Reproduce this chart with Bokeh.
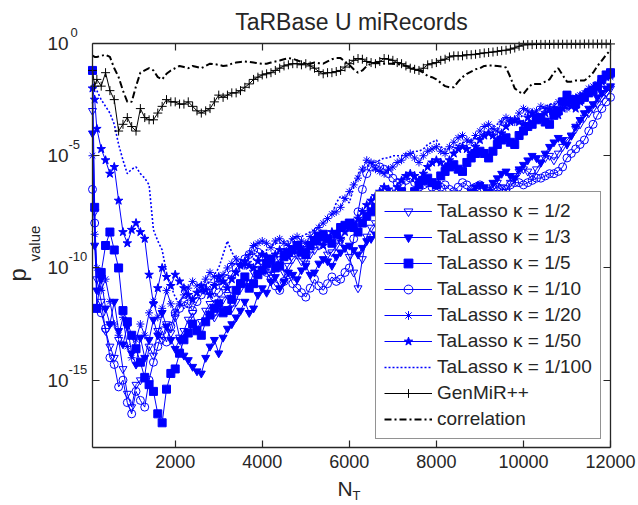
import math
from bokeh.plotting import figure
from bokeh.models import Range1d, FixedTicker, LinearAxis, LogAxis, Label, Legend, LegendItem
from bokeh.embed import file_html
from bokeh.resources import INLINE

FONT = "Liberation Sans"
BLUE = "#0000FF"
INK = "#262626"

# ---------------- data (log10 of p-value) ----------------
NT = [100, 150] + list(range(200, 12001, 100))   # 121 values of N_T

talasso_k2 = [
    -3.0, -7.5, -10.5, -11.5, -12.8, -13.5, -14.0, -13.2, -14.5, -15.6,
    -16.2, -15.2, -15.0, -14.8, -13.5, -13.9, -12.8, -13.2, -12.5, -12.9, -12.2,
    -13.1, -12.8, -12.3, -12.0, -12.7, -12.4, -11.9, -11.6, -12.2, -11.9,
    -11.4, -11.2, -11.8, -11.5, -10.9, -10.6, -10.8, -10.2, -10.1, -9.8,
    -10.0, -10.3, -9.9, -9.6, -10.2, -9.9, -9.6, -9.4, -9.7, -9.8,
    -9.4, -9.2, -9.0, -8.9, -9.4, -9.3, -9.0, -8.8, -9.1, -9.5,
    -10.2, -10.9, -9.6, -8.6, -8.2, -8.0, -8.5, -8.3, -7.9, -7.8,
    -8.1, -8.3, -7.9, -7.7, -8.0, -7.9, -7.6, -7.4, -7.7, -7.6,
    -7.4, -7.2, -7.3, -7.5, -7.1, -6.9, -6.8, -6.7, -7.0, -6.9,
    -6.7, -6.5, -6.4, -6.2, -6.4, -6.6, -6.2, -5.9, -5.7, -5.6,
    -5.7, -5.9, -5.6, -5.3, -5.1, -5.0, -5.2, -4.9, -4.6, -4.3,
    -4.1, -3.8, -3.6, -3.3, -3.1, -2.9, -2.7, -2.4, -2.2, -2.0]

talasso_k3 = [
    -4.0, -9.0, -11.0, -10.5, -11.8, -12.5, -11.5, -12.8, -13.4, -12.6,
    -13.8, -14.3, -13.1, -14.0, -13.2, -12.3, -13.0, -12.0, -12.6, -13.2, -13.6,
    -13.2, -13.9, -14.1, -14.4, -14.6, -14.7, -14.0, -13.5, -13.2, -13.8,
    -13.1, -12.7, -12.5, -12.2, -11.9, -11.5, -12.0, -11.8, -11.2, -10.9,
    -11.1, -10.6, -10.4, -10.9, -10.6, -10.2, -10.3, -10.5, -10.1, -9.9,
    -10.3, -10.2, -9.8, -9.6, -9.7, -9.9, -9.5, -9.3, -9.1, -9.0,
    -9.2, -9.4, -9.1, -8.8, -8.7, -8.5, -8.6, -8.8, -8.4, -8.2,
    -8.3, -8.1, -8.4, -8.3, -8.0, -7.8, -7.6, -7.5, -7.7, -7.8,
    -7.4, -7.2, -7.0, -6.9, -7.0, -7.2, -6.8, -6.6, -6.4, -6.3,
    -6.4, -6.6, -6.2, -6.0, -5.8, -5.7, -5.9, -6.0, -5.6, -5.4,
    -5.2, -5.0, -5.1, -5.3, -4.9, -4.6, -4.4, -4.2, -4.3, -4.5,
    -4.1, -3.7, -3.4, -3.1, -2.9, -2.7, -2.4, -2.2, -2.0, -1.9]

talasso_k5 = [
    -1.2, -7.3, -11.8, -10.2, -9.0, -8.4, -9.2, -10.0, -11.9, -12.4,
    -13.0, -13.6, -14.2, -14.9, -15.2, -15.5, -16.5, -16.9, -15.4, -14.7, -14.5,
    -13.8, -13.2, -12.9, -12.5, -12.8, -13.0, -12.4, -12.1, -11.8, -11.6,
    -12.0, -11.9, -11.4, -11.0, -10.7, -10.4, -10.9, -10.7, -10.3, -10.1,
    -9.8, -9.6, -10.0, -9.9, -9.5, -9.3, -9.2, -9.0, -9.3, -9.4,
    -9.0, -8.8, -8.6, -8.5, -8.7, -8.9, -8.5, -8.2, -8.1, -8.0,
    -8.2, -8.4, -8.0, -7.7, -7.5, -7.3, -7.4, -7.6, -7.2, -7.0,
    -6.8, -6.6, -6.8, -6.9, -6.6, -6.3, -6.1, -6.0, -6.2, -6.3,
    -5.9, -5.7, -5.5, -5.4, -5.6, -5.7, -5.3, -5.1, -4.9, -4.8,
    -4.9, -5.1, -4.8, -4.5, -4.3, -4.2, -4.4, -4.5, -4.1, -3.9,
    -3.7, -3.6, -3.4, -3.3, -3.5, -3.6, -3.2, -3.0, -2.6, -2.3,
    -2.5, -2.7, -2.5, -2.4, -2.2, -2.1, -1.9, -1.6, -1.4, -1.3]

talasso_k10 = [
    -6.5, -8.0, -11.8, -12.0, -12.7, -14.0, -14.3, -15.3, -15.0, -16.0,
    -16.5, -15.5, -15.9, -16.2, -15.0, -14.2, -13.5, -12.8, -13.3, -12.6, -12.0,
    -11.8, -11.5, -11.6, -11.9, -11.5, -11.2, -11.0, -10.8, -11.3, -11.1,
    -10.8, -10.5, -10.3, -10.0, -9.8, -9.6, -9.4, -9.2, -9.3, -9.5,
    -10.2, -10.5, -10.8, -11.0, -10.6, -10.3, -10.7, -10.9, -11.1, -11.3,
    -10.9, -10.5, -10.8, -11.0, -10.7, -10.4, -10.6, -10.5, -10.2, -10.0,
    -8.7, -7.5, -6.5, -5.8, -5.5, -5.4, -5.5, -5.6, -5.8, -6.0,
    -6.2, -6.3, -6.1, -6.0, -6.2, -6.4, -6.3, -6.2, -6.4, -6.5,
    -6.4, -6.3, -6.5, -6.6, -6.4, -6.2, -6.3, -6.5, -6.4, -6.3,
    -6.5, -6.6, -6.5, -6.4, -6.5, -6.5, -6.3, -6.2, -6.2, -6.3,
    -6.2, -6.1, -6.0, -6.0, -5.9, -5.8, -5.8, -5.7, -5.5, -5.1,
    -4.9, -4.7, -4.5, -4.3, -3.9, -3.6, -3.2, -2.9, -2.6, -2.4]

talasso_k20 = [
    -5.0, -8.5, -10.0, -11.0, -10.5, -11.5, -12.5, -13.0, -12.2, -13.5,
    -14.0, -13.2, -12.5, -13.0, -12.0, -11.5, -12.2, -11.8, -11.0, -11.6, -12.0,
    -11.6, -11.2, -10.9, -10.6, -10.8, -11.0, -10.5, -10.2, -10.4, -10.6,
    -10.3, -10.0, -9.8, -9.6, -9.8, -9.9, -9.4, -9.0, -8.9, -8.8,
    -8.9, -9.1, -8.8, -8.7, -8.9, -9.0, -8.7, -8.6, -8.8, -8.9,
    -8.6, -8.4, -8.2, -8.0, -7.8, -7.6, -7.5, -7.3, -6.9, -6.6,
    -6.3, -6.0, -5.6, -5.2, -5.3, -5.6, -5.7, -5.8, -5.6, -5.5,
    -5.3, -5.2, -5.0, -4.9, -5.1, -5.3, -5.0, -4.8, -4.7, -4.6,
    -4.8, -4.9, -4.6, -4.4, -4.2, -4.1, -4.3, -4.4, -4.1, -3.9,
    -3.7, -3.6, -3.8, -3.9, -3.5, -3.3, -3.4, -3.5, -3.1, -2.9,
    -3.0, -3.2, -3.0, -2.8, -2.9, -3.0, -2.8, -2.6, -2.7, -2.9,
    -2.6, -2.4, -2.3, -2.2, -2.0, -1.9, -1.8, -1.6, -1.5, -1.5]

talasso_k50 = [
    -2.0, -2.5, -3.8, -4.7, -5.2, -5.8, -5.5, -7.0, -8.4, -8.9,
    -8.3, -8.0, -8.4, -8.7, -10.3, -11.6, -10.9, -10.0, -10.4, -10.8, -10.3,
    -10.6, -10.9, -11.2, -11.4, -11.1, -10.8, -11.0, -11.2, -10.8, -10.4,
    -10.6, -10.9, -10.5, -10.2, -9.9, -9.7, -9.9, -10.0, -9.7, -9.4,
    -9.5, -9.7, -9.4, -9.2, -9.3, -9.5, -9.2, -9.0, -9.1, -9.3,
    -9.0, -8.7, -8.8, -9.0, -8.7, -8.4, -8.5, -8.7, -8.4, -8.2,
    -8.0, -7.8, -7.5, -7.2, -7.0, -6.8, -6.6, -6.4, -6.5, -6.7,
    -6.4, -6.1, -5.9, -5.8, -5.9, -6.1, -5.8, -5.5, -5.3, -5.2,
    -5.3, -5.5, -5.2, -4.9, -4.7, -4.6, -4.7, -4.9, -4.6, -4.3,
    -4.1, -4.0, -4.1, -4.3, -4.0, -3.7, -3.5, -3.4, -3.5, -3.6,
    -3.3, -3.1, -3.2, -3.4, -3.1, -2.9, -3.0, -3.2, -2.9, -2.7,
    -2.8, -2.9, -2.6, -2.4, -2.2, -2.1, -1.9, -1.7, -1.5, -1.4]

talasso_k100 = [
    -1.8, -1.9, -2.1, -2.5, -2.8, -3.1, -3.6, -4.5, -5.2, -5.8,
    -5.6, -5.5, -5.8, -6.0, -6.3, -8.3, -8.8, -9.2, -10.2, -10.8, -11.3,
    -11.6, -11.8, -11.7, -11.5, -11.3, -11.0, -10.8, -10.6, -10.3, -10.0,
    -9.4, -8.8, -9.3, -9.6, -9.9, -10.0, -9.8, -9.6, -9.4, -9.3,
    -9.2, -9.0, -8.9, -8.9, -8.8, -8.8, -8.7, -8.6, -8.6, -8.5,
    -8.4, -8.3, -8.1, -8.0, -7.8, -7.6, -7.1, -6.8, -6.9, -7.1,
    -6.4, -5.8, -5.6, -5.5, -5.4, -5.3, -5.2, -5.1, -5.1, -5.0,
    -5.0, -5.0, -4.9, -4.9, -4.8, -4.8, -4.7, -4.5, -4.4, -4.3,
    -4.6, -4.7, -4.7, -4.6, -4.5, -4.4, -4.4, -4.3, -4.2, -4.2,
    -4.0, -3.9, -3.7, -3.6, -3.4, -3.3, -3.3, -3.4, -3.3, -3.2,
    -3.1, -3.0, -3.0, -2.9, -2.8, -2.7, -2.7, -2.6, -2.5, -2.4,
    -2.4, -2.3, -2.2, -2.1, -2.0, -1.9, -1.8, -1.7, -1.6, -1.5]

genmir = [
    -1.2, -1.9, -1.6, -1.9, -1.3, -2.1, -2.5, -3.9, -3.6, -3.3,
    -3.7, -3.9, -2.9, -3.3, -3.4, -3.4, -3.1, -2.8, -2.5, -2.6, -2.6,
    -2.7, -2.7, -2.6, -2.8, -3.0, -3.1, -3.0, -2.9, -2.6, -2.3,
    -2.4, -2.3, -2.2, -2.2, -2.1, -1.95, -1.8, -1.6, -1.5, -1.4,
    -1.35, -1.3, -1.2, -1.1, -1.0, -0.95, -0.9, -0.9, -0.95, -0.9,
    -1.0, -1.1, -1.25, -1.35, -1.3, -1.3, -1.25, -1.2, -1.05, -0.9,
    -0.75, -0.67, -0.7, -0.8, -0.85, -0.9, -0.8, -0.67, -0.7, -0.75,
    -0.85, -0.9, -1.0, -1.1, -1.15, -1.2, -1.1, -0.95, -0.9, -0.85,
    -0.75, -0.7, -0.6, -0.55, -0.55, -0.55, -0.5, -0.5, -0.48, -0.45,
    -0.42, -0.4, -0.38, -0.35, -0.32, -0.3, -0.25, -0.2, -0.12, -0.06,
    -0.05, -0.05, -0.04, -0.04, -0.04, -0.04, -0.03, -0.03, -0.03, -0.03,
    -0.03, -0.03, -0.03, -0.02, -0.02, -0.02, -0.02, -0.02, -0.02, -0.02]

correlation = [
    -0.54, -0.6, -0.6, -0.55, -0.5, -0.6, -1.1, -1.5, -2.1, -2.6,
    -2.6, -1.9, -1.3, -1.2, -1.1, -1.2, -1.5, -1.6, -1.35, -1.2, -1.1,
    -1.0, -1.05, -1.1, -1.0, -1.05, -1.1, -1.0, -0.9, -0.92, -0.95,
    -1.0, -0.98, -0.9, -0.85, -0.82, -0.8, -0.82, -0.85, -0.88, -0.9,
    -0.9, -0.85, -0.8, -0.76, -0.7, -0.65, -0.68, -0.75, -0.82, -0.9,
    -0.9, -0.85, -0.88, -0.9, -0.8, -0.7, -0.65, -0.65, -0.8, -0.95,
    -1.15, -1.3, -1.2, -1.0, -0.9, -0.85, -0.88, -0.9, -0.9, -0.9,
    -0.92, -0.95, -1.0, -1.05, -1.1, -1.2, -1.3, -1.45, -1.5, -1.6,
    -1.75, -1.9, -1.95, -1.95, -1.7, -1.5, -1.35, -1.25, -1.15, -1.1,
    -1.0, -0.98, -0.98, -1.0, -1.02, -1.07, -1.5, -2.0, -2.15, -2.25,
    -2.0, -1.8, -1.8, -1.8, -1.7, -1.6, -1.3, -1.1, -1.4, -1.7,
    -1.7, -1.65, -1.65, -1.65, -1.5, -1.3, -1.0, -0.76, -0.5, -0.3]

x_ticks = [2000, 4000, 6000, 8000, 10000, 12000]
y_tick_exponents = [0, -5, -10, -15]
title_text = "TaRBase U miRecords"


def to_p(logs):
    return [10.0 ** v for v in logs]


# ---------------- geometry of the plot box inside the canvas ----------------
W, H = 638, 505
BOX_L, BOX_R, BOX_T, BOX_B = 92, 610, 43, 447          # pixels
X_LO, X_HI = 100, 12000                                 # data limits of the box
E_LO, E_HI = -18, 0                                     # log10 limits of the box
kx = (BOX_R - BOX_L) / (X_HI - X_LO)
ky = (E_HI - E_LO) / (BOX_B - BOX_T)
x_range = Range1d(X_LO - BOX_L / kx, X_HI + (W - BOX_R) / kx)
y_range = Range1d(10.0 ** (E_LO - (H - BOX_B) * ky), 10.0 ** (E_HI + BOX_T * ky))
Y_LO, Y_HI = 10.0 ** E_LO, 10.0 ** E_HI

p = figure(width=W, height=H, x_range=x_range, y_range=y_range,
           y_axis_type="log", output_backend="svg", toolbar_location=None,
           min_border=0)
p.xgrid.visible = False
p.ygrid.visible = False
p.background_fill_color = "white"
p.border_fill_color = "white"
p.outline_line_color = None


def style_axis(ax, show_labels):
    ax.axis_line_color = INK
    ax.axis_line_width = 1.3
    ax.major_tick_in = 7
    ax.major_tick_out = 0
    ax.minor_tick_in = 0
    ax.minor_tick_out = 0
    ax.major_tick_line_color = INK
    ax.major_tick_line_width = 1.2
    if show_labels:
        ax.major_label_text_font = FONT
        ax.major_label_text_font_size = "18px"
        ax.major_label_text_color = INK
    else:
        ax.major_label_text_color = None
        ax.major_label_text_font_size = "6px"


y_tick_values = [10.0 ** e for e in y_tick_exponents]

xax = p.xaxis[0]
xax.ticker = FixedTicker(ticks=x_ticks, minor_ticks=[])
xax.fixed_location = Y_LO
xax.bounds = (X_LO, X_HI)
style_axis(xax, True)
xax.major_label_standoff = 7

yax = p.yaxis[0]
yax.ticker = FixedTicker(ticks=y_tick_values, minor_ticks=[])
yax.fixed_location = X_LO
yax.bounds = (Y_LO, Y_HI)
style_axis(yax, False)

top_ax = LinearAxis(ticker=FixedTicker(ticks=x_ticks, minor_ticks=[]),
                    fixed_location=Y_HI, bounds=(X_LO, X_HI))
style_axis(top_ax, False)
p.add_layout(top_ax, "above")

right_ax = LogAxis(ticker=FixedTicker(ticks=y_tick_values, minor_ticks=[]),
                   fixed_location=X_HI, bounds=(Y_LO, Y_HI))
style_axis(right_ax, False)
p.add_layout(right_ax, "right")

# ---------------- series ----------------
talasso_styles = [
    ("TaLasso \u03ba = 1/2", talasso_k2, "inverted_triangle", False, 8),
    ("TaLasso \u03ba = 1/3", talasso_k3, "inverted_triangle", True, 8),
    ("TaLasso \u03ba = 1/5", talasso_k5, "square", True, 8),
    ("TaLasso \u03ba = 1/10", talasso_k10, "circle", False, 8),
    ("TaLasso \u03ba = 1/20", talasso_k20, "asterisk", False, 8),
    ("TaLasso \u03ba = 1/50", talasso_k50, "star", True, 9),
]

items = []
for label, logs, marker, filled, size in talasso_styles:
    ys = to_p(logs)
    lr = p.line(NT, ys, line_color=BLUE, line_width=1)
    sr = p.scatter(NT, ys, marker=marker, size=size, line_color=BLUE, line_width=1,
                   fill_color=BLUE, fill_alpha=1.0 if filled else 0.0)
    items.append(LegendItem(label=label, renderers=[lr, sr]))

dot_r = p.line(NT, to_p(talasso_k100), line_color=BLUE, line_width=1.6, line_dash="2 2")
items.append(LegendItem(label="TaLasso \u03ba = 1/100", renderers=[dot_r]))

g_line = p.line(NT, to_p(genmir), line_color="black", line_width=1)
g_mark = p.scatter(NT, to_p(genmir), marker="cross", size=9, line_color="black", line_width=1)
items.append(LegendItem(label="GenMiR++", renderers=[g_line, g_mark]))

c_line = p.line(NT, to_p(correlation), line_color="black", line_width=2, line_dash="7 3 2 3")
items.append(LegendItem(label="correlation", renderers=[c_line]))

legend = Legend(items=items, location=(375, H - 439), padding=8, spacing=4,
                glyph_width=48, glyph_height=22, label_height=22, label_standoff=5,
                label_text_font=FONT, label_text_font_size="19px", label_text_color=INK,
                border_line_color=INK, border_line_width=1.2,
                background_fill_color="white", background_fill_alpha=1.0)
p.add_layout(legend)

# ---------------- texts ----------------
p.add_layout(Label(x=(X_LO + X_HI) / 2, y=Y_HI, y_offset=22, text=title_text,
                   text_align="center", text_baseline="middle",
                   text_font=FONT, text_font_size="23px", text_color=INK))

# y tick labels: "10" with a raised exponent, at each tick of the left axis
for e, v in zip(y_tick_exponents, y_tick_values):
    p.add_layout(Label(x=X_LO, y=v, x_offset=-45, text="10", text_align="left",
                       text_baseline="middle", text_font=FONT, text_font_size="19px",
                       text_color=INK))
    p.add_layout(Label(x=X_LO, y=v, x_offset=-22 if e == 0 else -24, y_offset=11,
                       text=str(e), text_align="left", text_baseline="middle",
                       text_font=FONT, text_font_size="13px", text_color=INK))

# y axis label: p with subscript "value"
p.add_layout(Label(x=X_LO, y=Y_LO, x_offset=-75, y_offset=166, angle=math.pi / 2,
                   text="p", text_align="left", text_baseline="alphabetic",
                   text_font=FONT, text_font_size="24px", text_color=INK))
p.add_layout(Label(x=X_LO, y=Y_LO, x_offset=-58, y_offset=186, angle=math.pi / 2,
                   text="value", text_align="left", text_baseline="alphabetic",
                   text_font=FONT, text_font_size="15px", text_color=INK))

# x axis label: N with subscript T
p.add_layout(Label(x=X_LO, y=Y_LO, x_offset=245, y_offset=-41, text="N",
                   text_align="left", text_baseline="middle",
                   text_font=FONT, text_font_size="21px", text_color=INK))
p.add_layout(Label(x=X_LO, y=Y_LO, x_offset=260, y_offset=-48, text="T",
                   text_align="left", text_baseline="middle",
                   text_font=FONT, text_font_size="13px", text_color=INK))

open("out.html", "w").write(file_html(p, INLINE))
